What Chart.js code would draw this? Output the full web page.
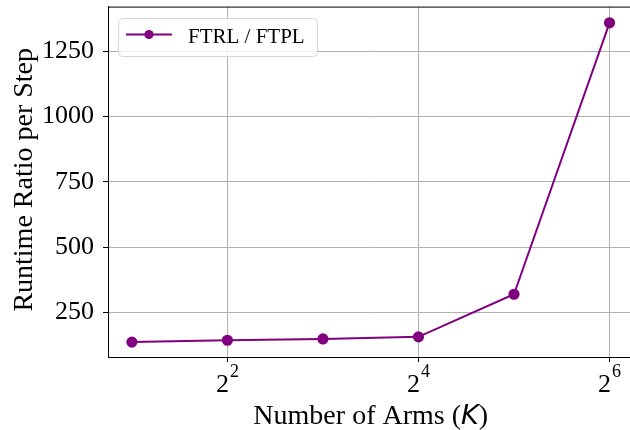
<!DOCTYPE html>
<html>
<head>
<meta charset="utf-8">
<script src="https://cdn.jsdelivr.net/npm/chart.js"></script>
<style>
  body { margin: 0; background: #fff; }
  #clip { width: 630px; height: 430px; overflow: hidden; }
  #wrap { width: 640px; height: 430px; }
</style>
</head>
<body>
<div id="clip"><div id="wrap"><canvas id="chart"></canvas></div></div>
<script>
const arms = [2, 4, 8, 16, 32, 64];
const ratio = [137, 144, 149, 157, 320, 1358];
const xTicks = [4, 16, 64];
const xTickExp = ['2', '4', '6'];
const yTicks = [250, 500, 750, 1000, 1250];
const seriesLabel = 'FTRL / FTPL';
const xTitle = ['Number of Arms (', 'K', ')'];
const yTitle = 'Runtime Ratio per Step';

const serif = '"Liberation Serif", "Times New Roman", serif';
const purple = '#800080';

// axis titles, x tick labels, top spine and the legend box
const decorations = {
    id: 'decorations',
    afterDraw(chart) {
        const c = chart.ctx;
        const area = chart.chartArea;
        const xs = chart.scales.x;
        c.save();

        // top spine
        c.strokeStyle = '#000';
        c.lineWidth = 1;
        c.beginPath();
        c.moveTo(area.left, area.top + 0.5);
        c.lineTo(area.right, area.top + 0.5);
        c.stroke();

        // x tick labels 2^n
        c.fillStyle = '#000';
        c.textBaseline = 'alphabetic';
        xTicks.forEach((v, i) => {
            const px = xs.getPixelForValue(v);
            c.font = '26px ' + serif;
            const wb = c.measureText('2').width;
            c.font = '18px ' + serif;
            const we = c.measureText(xTickExp[i]).width;
            const x0 = px - (wb + we + 1) / 2;
            c.font = '26px ' + serif;
            c.textAlign = 'left';
            c.fillText('2', x0, 392);
            c.font = '18px ' + serif;
            c.fillText(xTickExp[i], x0 + wb + 1, 377);
        });

        // x title with italic K
        const fonts = ['28px ' + serif, 'oblique 27px "DejaVu Sans"', '28px ' + serif];
        let total = 0;
        const widths = xTitle.map((t, i) => { c.font = fonts[i]; const w = c.measureText(t).width; total += w; return w; });
        let x = (area.left + area.right) / 2 - total / 2;
        xTitle.forEach((t, i) => {
            c.font = fonts[i];
            c.fillText(t, x, 424);
            x += widths[i];
        });

        // y title
        c.translate(25, (area.top + area.bottom) / 2 - 2);
        c.rotate(-Math.PI / 2);
        c.font = '28px ' + serif;
        c.textAlign = 'center';
        c.textBaseline = 'middle';
        c.fillText(yTitle, 0, 0);
        c.restore();

        // legend
        c.save();
        const bx = 118.5, by = 18.5, bw = 199, bh = 38, r = 4;
        c.beginPath();
        c.moveTo(bx + r, by);
        c.arcTo(bx + bw, by, bx + bw, by + bh, r);
        c.arcTo(bx + bw, by + bh, bx, by + bh, r);
        c.arcTo(bx, by + bh, bx, by, r);
        c.arcTo(bx, by, bx + bw, by, r);
        c.closePath();
        c.fillStyle = 'rgba(255,255,255,0.8)';
        c.fill();
        c.strokeStyle = '#d6d6d6';
        c.lineWidth = 1;
        c.stroke();
        c.strokeStyle = purple;
        c.lineWidth = 2;
        c.beginPath();
        c.moveTo(126, 34.5);
        c.lineTo(172, 34.5);
        c.stroke();
        c.fillStyle = purple;
        c.beginPath();
        c.arc(149, 34.5, 4.6, 0, Math.PI * 2);
        c.fill();
        c.fillStyle = '#000';
        c.font = '21px ' + serif;
        c.textAlign = 'left';
        c.textBaseline = 'alphabetic';
        c.fillText(seriesLabel, 188, 43);
        c.restore();
    }
};

new Chart(document.getElementById('chart'), {
    type: 'line',
    data: {
        labels: arms,
        datasets: [{
            label: seriesLabel,
            data: arms.map((k, i) => ({ x: k, y: ratio[i] })),
            borderColor: purple,
            backgroundColor: purple,
            borderWidth: 2,
            pointRadius: 4.6,
            pointHoverRadius: 4.6,
            tension: 0
        }]
    },
    options: {
        responsive: true,
        maintainAspectRatio: false,
        animation: false,
        events: [],
        layout: { padding: { left: 0, top: 6, right: 4, bottom: 0 } },
        plugins: { legend: { display: false }, tooltip: { enabled: false } },
        scales: {
            x: {
                type: 'logarithmic',
                min: Math.pow(2, 0.75),
                max: Math.pow(2, 6.25),
                afterBuildTicks: s => { s.ticks = xTicks.map(v => ({ value: v })); },
                afterFit: s => { s.height = 73; s.paddingLeft = 0; s.paddingRight = 0; },
                ticks: { callback: () => '', autoSkip: false },
                grid: { color: '#b0b0b0', lineWidth: 1, tickColor: '#000', tickLength: 5 },
                border: { color: '#000', width: 1 }
            },
            y: {
                min: 80,
                max: 1420,
                afterBuildTicks: s => { s.ticks = yTicks.map(v => ({ value: v })); },
                afterFit: s => { s.width = 108; s.paddingTop = 0; s.paddingBottom = 0; },
                ticks: { color: '#000', font: { family: serif, size: 26 }, padding: 9, callback: v => String(v) },
                grid: { color: '#b0b0b0', lineWidth: 1, tickColor: '#000', tickLength: 5 },
                border: { color: '#000', width: 1 }
            }
        }
    },
    plugins: [decorations]
});
</script>
</body>
</html>
